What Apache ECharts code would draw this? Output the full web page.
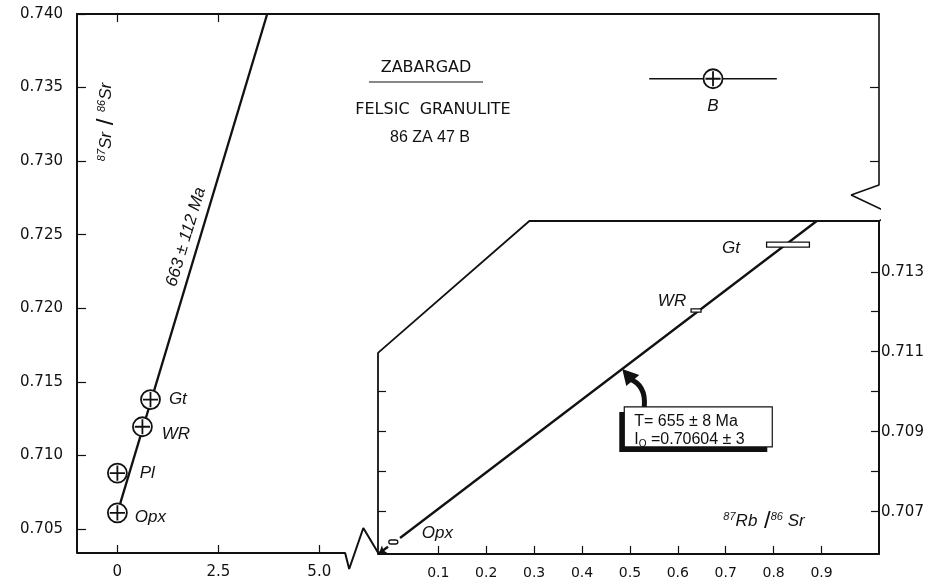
<!DOCTYPE html>
<html>
<head>
<meta charset="utf-8">
<title>Zabargad felsic granulite 86ZA47B - Rb-Sr isochron</title>
<script src="https://cdn.jsdelivr.net/npm/echarts@6.0.0/dist/echarts.min.js"></script>
<style>
  html, body { margin: 0; padding: 0; background: #fff; }
  #chart { width: 933px; height: 584px; }
</style>
</head>
<body>
<div id="chart"></div>
<script>
// ---- main diagram: 87Rb/86Sr vs 87Sr/86Sr ----
var mainNames = ['Opx', 'Pl', 'WR', 'Gt'];
var mainRbSr = [0.0, 0.0, 0.62, 0.82];
var mainSrSr = [0.7061, 0.7088, 0.71195, 0.7138];

// whole rock B with its 2-sigma bar
var bNames = ['B'];
var bRbSr = [14.75];
var bSrSr = [0.7356];
var bRbSrErr = [1.58];

// 663 +- 112 Ma line
var mainIsoX = [0.0, 3.71];
var mainIsoY = [0.7061, 0.740];

var mainXTicks = [0, 2.5, 5.0];
var mainYTicks = [0.705, 0.710, 0.715, 0.720, 0.725, 0.730, 0.735, 0.740];
var mainTopTicks = [0, 2.5];
var mainRightTicks = [0.730, 0.735];

// ---- inset: expanded scale ----
var insetNames = ['Opx', 'WR', 'Gt'];
var insetRbSr = [0.006, 0.638, 0.830];
var insetSrSr = [0.70624, 0.71203, 0.71368];
var insetRbSrErr = [0.0094, 0.0104, 0.0447];
var insetSrSrErr = [0.00005, 0.00004, 0.0000625];

// 655 +- 8 Ma isochron
var insetIsoX = [0.02, 0.89];
var insetIsoY = [0.70634, 0.71427];

var insetXTicks = [0.1, 0.2, 0.3, 0.4, 0.5, 0.6, 0.7, 0.8, 0.9];
var insetYTicks = [0.707, 0.708, 0.709, 0.710, 0.711, 0.712, 0.713];
var insetYLabels = [0.707, 0.709, 0.711, 0.713];
var insetLeftTicks = [0.707, 0.708, 0.709, 0.710];

// axis ranges
var mainX = [-1, 18.86], mainY = [0.70337, 0.740];
var insetX = [-0.026, 1.02], insetY = [0.70594, 0.71427];

// frame pieces with the axis-break zigzags
var bottomFrameX = [-1, 5.64, 5.74, 6.09, 6.46];
var bottomFrameY = [0.70337, 0.70337, 0.70228, 0.70507, 0.70337];
var rightFrameX = [18.86, 18.86, 18.17, 19.16, 18.86];
var rightFrameY = [0.740, 0.72838, 0.7277, 0.72641, 0.72593];
var insetFrameX = [-0.026, -0.026, 0.29, 1.02];
var insetFrameY = [0.70594, 0.71097, 0.71427, 0.71427];

var INK = '#111';
var FONT = 'DejaVu Sans';
var SANS = 'Liberation Sans';

function zip(xs, ys) {
    return xs.map(function (x, i) { return [x, ys[i]]; });
}

var circlePlus = 'path://M0,10A10,10,0,1,1,20,10A10,10,0,1,1,0,10ZM10,2L10,18M2,10L18,10';

var mainLabelOffset = { Opx: [2, 4], Pl: [7, 0], WR: [4, 8], Gt: [3, 0] };
var insetLabelOffset = { Opx: [44, -9], WR: [-24, -9], Gt: [-57, 4] };

function frameLine(xi, yi, pts, w) {
    return {
        type: 'line', xAxisIndex: xi, yAxisIndex: yi, data: pts,
        symbol: 'none', clip: false, silent: true, z: 3,
        lineStyle: { color: INK, width: w }
    };
}

function tickStyle(vals, len) {
    return { show: true, inside: true, length: len, customValues: vals,
             lineStyle: { color: INK, width: 1.2 } };
}

var chart = echarts.init(document.getElementById('chart'));

var option = {
    animation: false,
    backgroundColor: '#fff',
    grid: [
        { left: 77, right: 54, top: 14, bottom: 31, outerBoundsMode: 'none' },
        { left: 378, right: 54, top: 221, bottom: 30, outerBoundsMode: 'none' }
    ],
    xAxis: [
        {   // main bottom
            type: 'value', gridIndex: 0, min: mainX[0], max: mainX[1],
            axisLine: { show: false, onZero: false }, splitLine: { show: false },
            axisTick: tickStyle(mainXTicks, 8),
            axisLabel: { customValues: mainXTicks, margin: 12, color: INK, fontFamily: FONT, fontSize: 15,
                formatter: function (v) { return v === 0 ? '0' : v.toFixed(1); } }
        },
        {   // main top border
            type: 'value', gridIndex: 0, position: 'top', min: mainX[0], max: mainX[1],
            axisLine: { show: true, onZero: false, lineStyle: { color: INK, width: 2 } }, splitLine: { show: false },
            axisTick: tickStyle(mainTopTicks, 8),
            axisLabel: { show: false }
        },
        {   // inset bottom
            type: 'value', gridIndex: 1, min: insetX[0], max: insetX[1],
            axisLine: { show: true, onZero: false, lineStyle: { color: INK, width: 2 } }, splitLine: { show: false },
            axisTick: tickStyle(insetXTicks, 8),
            axisLabel: { customValues: insetXTicks, margin: 12, color: INK, fontFamily: FONT, fontSize: 14,
                formatter: function (v) { return v.toFixed(1); } }
        }
    ],
    yAxis: [
        {   // main left
            type: 'value', gridIndex: 0, min: mainY[0], max: mainY[1],
            axisLine: { show: true, onZero: false, lineStyle: { color: INK, width: 2 } }, splitLine: { show: false },
            axisTick: tickStyle(mainYTicks, 9),
            axisLabel: { customValues: mainYTicks, margin: 14, color: INK, fontFamily: FONT, fontSize: 15,
                formatter: function (v) { return v.toFixed(3); } }
        },
        {   // main right ticks
            type: 'value', gridIndex: 0, position: 'right', min: mainY[0], max: mainY[1],
            axisLine: { show: false, onZero: false }, splitLine: { show: false },
            axisTick: tickStyle(mainRightTicks, 9),
            axisLabel: { show: false }
        },
        {   // inset right
            type: 'value', gridIndex: 1, position: 'right', min: insetY[0], max: insetY[1],
            axisLine: { show: true, onZero: false, lineStyle: { color: INK, width: 2 } }, splitLine: { show: false },
            axisTick: tickStyle(insetYTicks, 8),
            axisLabel: { customValues: insetYLabels, margin: 2, color: INK, fontFamily: FONT, fontSize: 15,
                formatter: function (v) { return v.toFixed(3); } }
        },
        {   // inset left ticks
            type: 'value', gridIndex: 1, position: 'left', min: insetY[0], max: insetY[1],
            axisLine: { show: false, onZero: false }, splitLine: { show: false },
            axisTick: tickStyle(insetLeftTicks, 8),
            axisLabel: { show: false }
        }
    ],
    series: [
        frameLine(0, 0, zip(bottomFrameX, bottomFrameY), 2),
        frameLine(0, 0, zip(rightFrameX, rightFrameY), 1.6),
        frameLine(2, 2, zip(insetFrameX, insetFrameY), 1.8),
        {
            name: '663 Ma', type: 'line', xAxisIndex: 0, yAxisIndex: 0,
            data: zip(mainIsoX, mainIsoY), symbol: 'none', clip: false, z: 2,
            lineStyle: { color: INK, width: 2.3 }
        },
        {
            name: 'B error', type: 'line', xAxisIndex: 0, yAxisIndex: 0,
            data: [[bRbSr[0] - bRbSrErr[0], bSrSr[0]], [bRbSr[0] + bRbSrErr[0], bSrSr[0]]],
            symbol: 'none', z: 2, lineStyle: { color: INK, width: 1.6 }
        },
        {
            name: 'minerals', type: 'scatter', xAxisIndex: 0, yAxisIndex: 0,
            symbol: circlePlus, symbolSize: 19, z: 5,
            itemStyle: { color: '#fff', borderColor: INK, borderWidth: 1.8, opacity: 1 },
            label: { show: true, position: 'right', formatter: '{b}', color: INK,
                fontFamily: SANS, fontStyle: 'italic', fontSize: 17 },
            data: mainNames.map(function (n, i) {
                return { name: n, value: [mainRbSr[i], mainSrSr[i]], label: { offset: mainLabelOffset[n] } };
            })
        },
        {
            name: 'B', type: 'scatter', xAxisIndex: 0, yAxisIndex: 0,
            symbol: circlePlus, symbolSize: 19, z: 5,
            itemStyle: { color: '#fff', borderColor: INK, borderWidth: 1.8, opacity: 1 },
            label: { show: true, position: 'bottom', offset: [0, 4], formatter: '{b}', color: INK,
                fontFamily: SANS, fontStyle: 'italic', fontSize: 17 },
            data: bNames.map(function (n, i) { return { name: n, value: [bRbSr[i], bSrSr[i]] }; })
        },
        {
            name: '655 Ma', type: 'line', xAxisIndex: 2, yAxisIndex: 2,
            data: zip(insetIsoX, insetIsoY), symbol: 'none', clip: false, z: 2,
            lineStyle: { color: INK, width: 2.3 },
            markLine: {
                silent: true, symbol: ['none', 'arrow'], symbolSize: 7,
                label: { show: false },
                lineStyle: { color: INK, width: 2.5, type: 'solid' },
                data: [[{ coord: [-0.005, 0.70612] }, { coord: [-0.024, 0.70596] }]]
            }
        },
        {
            name: 'inset points', type: 'custom', xAxisIndex: 2, yAxisIndex: 2, z: 5,
            data: insetNames.map(function (n, i) {
                return [insetRbSr[i], insetSrSr[i], insetRbSrErr[i], insetSrSrErr[i]];
            }),
            renderItem: function (params, api) {
                var i = params.dataIndex;
                var x = api.value(0), y = api.value(1), ex = api.value(2), ey = api.value(3);
                var p1 = api.coord([x - ex, y + ey]);
                var p2 = api.coord([x + ex, y - ey]);
                var c = api.coord([x, y]);
                var off = insetLabelOffset[insetNames[i]];
                return {
                    type: 'group',
                    children: [
                        { type: 'rect',
                          shape: { x: p1[0], y: p1[1], width: p2[0] - p1[0], height: Math.max(p2[1] - p1[1], 3), r: i === 0 ? 2 : 0 },
                          style: { fill: '#fff', stroke: INK, lineWidth: 1.3 } },
                        { type: 'text', x: c[0] + off[0], y: c[1] + off[1],
                          style: { text: insetNames[i], font: 'italic 17px "' + SANS + '"', fill: INK,
                                   align: 'center', verticalAlign: 'middle',
                                   textAlign: 'center', textVerticalAlign: 'middle' } }
                    ]
                };
            }
        }
    ]
};

chart.setOption(option);

// annotation box + arrow pointing at the inset isochron
var arrowX = 0.484;
var slope = (insetIsoY[1] - insetIsoY[0]) / (insetIsoX[1] - insetIsoX[0]);
var tip = chart.convertToPixel({ gridIndex: 1 }, [arrowX, insetIsoY[0] + (arrowX - insetIsoX[0]) * slope]);
var tx = tip[0], ty = tip[1];

function txt(x, y, text, extra) {
    var st = { text: text, fill: INK, align: 'center', verticalAlign: 'middle',
               textAlign: 'center', textVerticalAlign: 'middle' };
    for (var k in extra) st[k] = extra[k];
    return { type: 'text', x: x, y: y, style: st, z: 10 };
}

var supStyle = { fontFamily: SANS, fontStyle: 'italic', fontSize: 11, verticalAlign: 'top', lineHeight: 20 };
var isoStyle = { fontFamily: SANS, fontStyle: 'italic', fontSize: 17, lineHeight: 20 };
var slashStyle = { fontFamily: SANS, fontSize: 24, lineHeight: 20 };

chart.setOption({
    graphic: [
        // sample header
        txt(426, 68, 'ZABARGAD', { font: '16px "' + FONT + '"' }),
        { type: 'line', shape: { x1: 369, y1: 82, x2: 483, y2: 82 }, style: { stroke: INK, lineWidth: 1.2 } },
        txt(433, 110, 'FELSIC  GRANULITE', { font: '16px "' + FONT + '"' }),
        txt(430, 138, '86 ZA 47 B', { font: '16px "' + SANS + '"' }),
        // y axis title (vertical)
        { type: 'text', x: 106, y: 122, rotation: Math.PI / 2, z: 10,
          style: { text: '{s|87}{i|Sr}  {d|/}  {s|86}{i|Sr}', fill: INK,
                   align: 'center', verticalAlign: 'middle', textAlign: 'center', textVerticalAlign: 'middle',
                   rich: { s: supStyle, i: isoStyle, d: slashStyle } } },
        // x axis title in inset
        { type: 'text', x: 764, y: 521, z: 10,
          style: { text: '{s|87}{i|Rb}  {d|/}{s|86}{i| Sr}', fill: INK,
                   align: 'center', verticalAlign: 'middle', textAlign: 'center', textVerticalAlign: 'middle',
                   rich: { s: supStyle, i: isoStyle, d: slashStyle } } },
        // age label along the main line
        { type: 'text', x: 186, y: 237, rotation: 1.279, z: 10,
          style: { text: '663 ± 112 Ma', font: 'italic 17px "' + SANS + '"', fill: INK,
                   align: 'center', verticalAlign: 'middle', textAlign: 'center', textVerticalAlign: 'middle' } },
        // result box with shadow
        { type: 'rect', shape: { x: tx - 3, y: ty + 43, width: 148, height: 40 }, style: { fill: INK }, z: 10 },
        { type: 'rect', shape: { x: tx + 2, y: ty + 38, width: 148, height: 40 },
          style: { fill: '#fff', stroke: INK, lineWidth: 1.2 }, z: 11 },
        { type: 'text', x: tx + 12, y: ty + 53, z: 12,
          style: { text: 'T= 655 ± 8 Ma', font: '16px "' + SANS + '"', fill: INK,
                   align: 'left', verticalAlign: 'middle', textAlign: 'left', textVerticalAlign: 'middle' } },
        { type: 'text', x: tx + 12, y: ty + 71, z: 12,
          style: { text: '{a|I}{o|O}{a| =0.70604 ± 3}', fill: INK,
                   align: 'left', verticalAlign: 'middle', textAlign: 'left', textVerticalAlign: 'middle',
                   rich: { a: { fontFamily: SANS, fontSize: 16, lineHeight: 18 },
                           o: { fontFamily: SANS, fontSize: 10, verticalAlign: 'bottom', lineHeight: 18 } } } },
        // curved arrow
        { type: 'bezierCurve', z: 10,
          shape: { x1: tx + 22, y1: ty + 38, cpx1: tx + 24, cpy1: ty + 16, x2: tx + 7, y2: ty + 10 },
          style: { stroke: INK, lineWidth: 5, fill: null } },
        { type: 'polygon', z: 10,
          shape: { points: [[tx, ty], [tx + 17, ty + 6], [tx + 4, ty + 17]] },
          style: { fill: INK } }
    ]
});
</script>
</body>
</html>
